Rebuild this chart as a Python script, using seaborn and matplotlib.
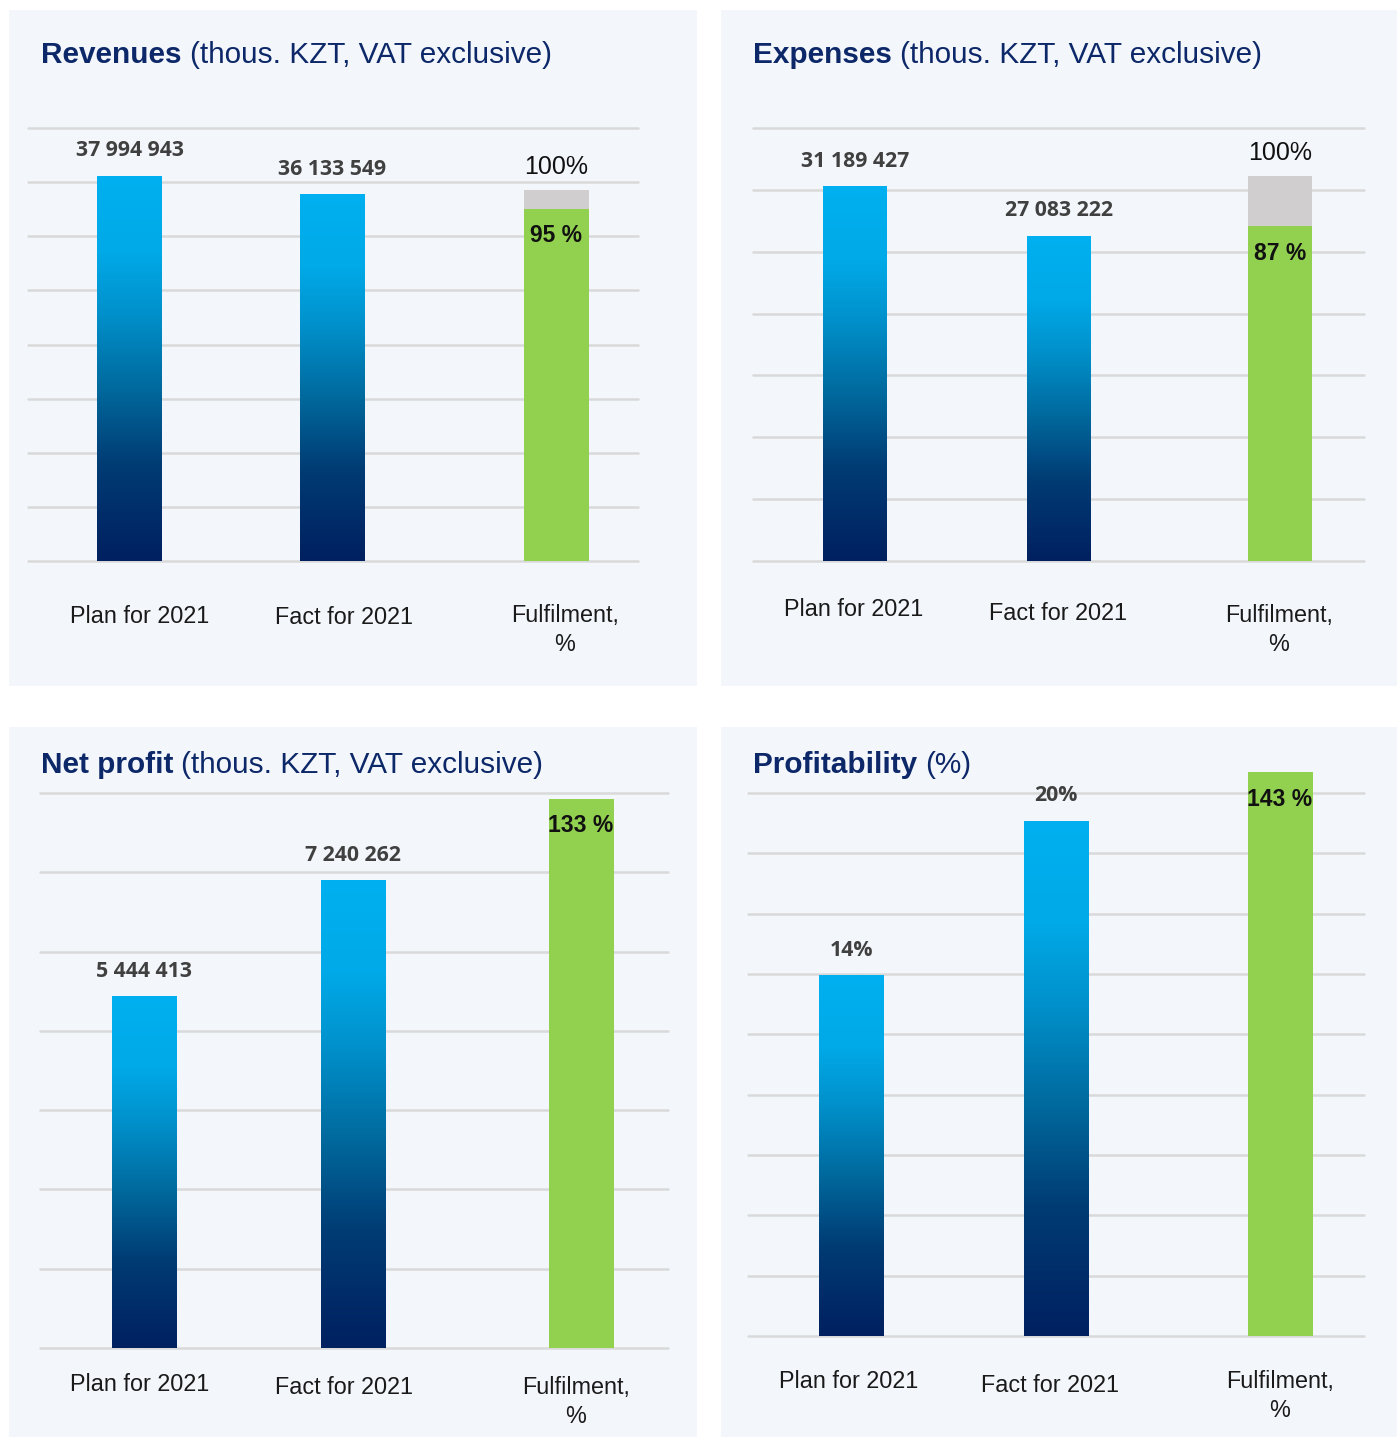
import numpy as np
import pandas as pd
import matplotlib
matplotlib.use("Agg")
import matplotlib.pyplot as plt
import seaborn as sns
from matplotlib.colors import LinearSegmentedColormap
from matplotlib.patches import Rectangle
from matplotlib.transforms import IdentityTransform

# ---------------- data ----------------
categories = ["Plan for 2021", "Fact for 2021", "Fulfilment,\n%"]

titles_bold = ["Revenues", "Expenses", "Net profit", "Profitability"]
titles_rest = ["(thous. KZT, VAT exclusive)", "(thous. KZT, VAT exclusive)",
               "(thous. KZT, VAT exclusive)", "(%)"]

revenues = [37994943, 36133549]
expenses = [31189427, 27083222]
net_profit = [5444413, 7240262]
profitability = [14, 20]

fulfilment_pct = [95, 87, 133, 143]
reference_pct = 100

values_all = [revenues, expenses, net_profit, profitability]
label_fmt = ["num", "num", "num", "pct"]

# ---------------- layout (pixels) ----------------
W, H = 1397, 1437
layout = [
    dict(bg=(9, 10, 697, 686), ax=(28, 128, 638, 561), n=8, centers=(129.5, 332, 556), bw=65,
         ymax=42.68e6, pmax=116.8, dx=(10, 12, 9), dy=(53, 54, 52), title=(41, 63)),
    dict(bg=(721, 10, 1397, 686), ax=(753, 128, 1364, 561), n=7, centers=(855, 1059, 1280), bw=64,
         ymax=36.04e6, pmax=112.6, dx=(-1, -1, -1), dy=(46, 50, 52), title=(753, 63)),
    dict(bg=(9, 727, 697, 1437), ax=(40, 793, 668, 1348), n=7, centers=(144, 353, 581), bw=65,
         ymax=8.594e6, pmax=134.45, dx=(-4, -9, -5), dy=(34, 37, 37), title=(41, 773)),
    dict(bg=(721, 727, 1397, 1437), ax=(748, 793, 1364, 1336), n=9, centers=(851, 1056, 1280), bw=65,
         ymax=21.07, pmax=137.7, dx=(-2, -6, 0), dy=(43, 47, 43), title=(753, 773)),
]

BG = "#F3F6FB"
GRID = "#D9D9D9"
NAVY_TITLE = "#0D2869"
GREEN = "#92D050"
GREY = "#D0CECE"
VALUE_COL = "#404040"
CAT_COL = "#1A1A1A"

sns.set_theme(style="white")
plt.rcParams['font.family'] = ['Liberation Sans', 'DejaVu Sans']

grad_cmap = LinearSegmentedColormap.from_list(
    "bar_grad",
    [(0.0, "#002060"), (0.25, "#003C74"), (0.45, "#006A9E"), (0.65, "#0092CD"),
     (0.80, "#00A9E7"), (1.0, "#00B0F0")])
grad = np.linspace(0, 1, 256).reshape(-1, 1)


def frac_rect(l, t, r, b):
    return [l / W, 1 - b / H, (r - l) / W, (b - t) / H]


fig = plt.figure(figsize=(W / 100, H / 100), dpi=100, facecolor="white")

for k, cfg in enumerate(layout):
    x0, y0, x1, y1 = cfg["bg"]
    fig.add_artist(Rectangle((x0 / W, 1 - y1 / H), (x1 - x0) / W, (y1 - y0) / H,
                             transform=fig.transFigure, facecolor=BG, edgecolor="none", zorder=-5))

    axL, axT, axR, axB = cfg["ax"]
    c0, c1, c2 = cfg["centers"]
    unit = c1 - c0
    span = (axR - axL) / unit
    wfrac = cfg["bw"] / unit

    # ---- primary axis: plan / fact ----
    ax = fig.add_axes(frac_rect(*cfg["ax"]))
    ax.set_facecolor("none")
    df = pd.DataFrame({"cat": categories[:2], "val": values_all[k]})
    sns.barplot(data=df, x="cat", y="val", order=categories, ax=ax, color="#00B0F0",
                width=wfrac, errorbar=None, saturation=1, linewidth=0, edgecolor="none")
    for p in list(ax.patches):
        px, pw, ph = p.get_x(), p.get_width(), p.get_height()
        im = ax.imshow(grad, extent=[px, px + pw, 0, ph], aspect="auto", cmap=grad_cmap,
                       origin="lower", interpolation="bilinear", zorder=p.get_zorder() + 0.01)
        im.set_clip_path(p)
    xl = -(c0 - axL) / unit
    ax.set_xlim(xl, xl + span)
    ax.set_ylim(0, cfg["ymax"])
    ax.set_yticks(np.linspace(0, cfg["ymax"], cfg["n"] + 1))
    ax.set_axisbelow(True)
    ax.grid(axis="y", color=GRID, lw=1.8)
    ax.grid(axis="x", visible=False)
    for gl in ax.get_ygridlines():
        gl.set_clip_on(False)
    ax.tick_params(left=False, labelleft=False, bottom=False, labelbottom=False)
    for s in ax.spines.values():
        s.set_visible(False)
    ax.set_xlabel("")
    ax.set_ylabel("")

    for i, v in enumerate(values_all[k]):
        txt = f"{v:,}".replace(",", " ") if label_fmt[k] == "num" else f"{v}%"
        ax.annotate(txt, xy=(i, v), xytext=(0, 25), textcoords="offset pixels",
                    ha="center", va="center", fontfamily=["Open Sans", "DejaVu Sans"],
                    fontweight="bold", fontsize=15.3, color=VALUE_COL, annotation_clip=False)

    # ---- overlay axis: fulfilment % ----
    ax2 = fig.add_axes(frac_rect(*cfg["ax"]))
    ax2.set_facecolor("none")
    pct = fulfilment_pct[k]
    sns.barplot(data=pd.DataFrame({"cat": [categories[2]], "val": [reference_pct]}),
                x="cat", y="val", order=categories, ax=ax2, color=GREY, width=wfrac,
                errorbar=None, saturation=1, linewidth=0, edgecolor="none")
    sns.barplot(data=pd.DataFrame({"cat": [categories[2]], "val": [pct]}),
                x="cat", y="val", order=categories, ax=ax2, color=GREEN, width=wfrac,
                errorbar=None, saturation=1, linewidth=0, edgecolor="none")
    for p in ax2.patches:
        p.set_clip_on(False)
    xl2 = 2 - (c2 - axL) / unit
    ax2.set_xlim(xl2, xl2 + span)
    ax2.set_ylim(0, cfg["pmax"])
    ax2.axis("off")

    ax2.annotate(f"{pct} %", xy=(2, pct), xytext=(0, -27), textcoords="offset pixels",
                 ha="center", va="center", fontweight="bold", fontsize=16.5, color="#111111",
                 annotation_clip=False)
    if pct < reference_pct:
        ax2.annotate(f"{reference_pct}%", xy=(2, reference_pct), xytext=(0, 23),
                     textcoords="offset pixels", ha="center", va="center", fontsize=18,
                     color="#111111", annotation_clip=False)

    # ---- category labels ----
    for i, cat in enumerate(categories):
        target = ax if i < 2 else ax2
        target.annotate(cat, xy=(i, 0), xycoords=("data", "axes fraction"),
                        xytext=(cfg["dx"][i], -(cfg["dy"][i] - 9)), textcoords="offset pixels",
                        ha="center", va="top", multialignment="center", linespacing=1.35,
                        fontsize=16.8, color=CAT_COL, annotation_clip=False)

# ---- titles ----
renderer = fig.canvas.get_renderer()
for k, cfg in enumerate(layout):
    tx, ty = cfg["title"]
    t1 = fig.text(tx, H - ty, titles_bold[k], transform=IdentityTransform(), ha="left",
                  va="baseline", fontsize=21.4, fontweight="bold", color=NAVY_TITLE)
    bb = t1.get_window_extent(renderer)
    fig.text(bb.x1 + 8, H - ty, titles_rest[k], transform=IdentityTransform(), ha="left",
             va="baseline", fontsize=21.4, color=NAVY_TITLE)

fig.savefig("out.png", dpi=100, facecolor="white")
